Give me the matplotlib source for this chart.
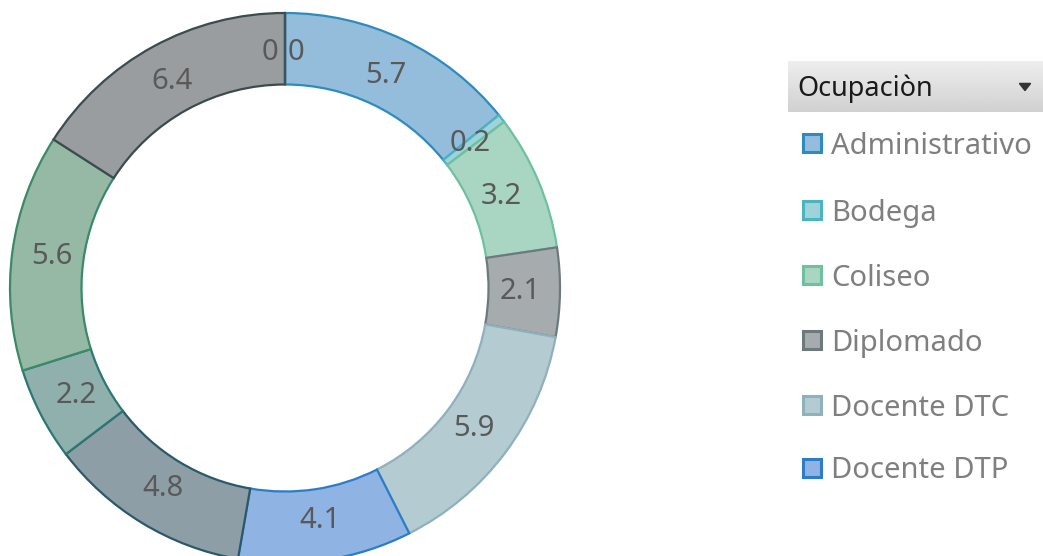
import numpy as np
import matplotlib
matplotlib.use("Agg")
import matplotlib.pyplot as plt
from matplotlib.patches import Rectangle, Polygon

plt.rcParams['font.family'] = ['Noto Sans', 'DejaVu Sans']

# data (clockwise from the top)
values = [5.7, 0.2, 3.2, 2.1, 5.9, 4.1, 4.8, 2.2, 5.6, 6.4, 0.0, 0.0]
labels = ["5.7", "0.2", "3.2", "2.1", "5.9", "4.1", "4.8", "2.2", "5.6", "6.4", "0", "0"]
legend_names = ["Administrativo", "Bodega", "Coliseo", "Diplomado", "Docente DTC", "Docente DTP"]
legend_title = "Ocupaciòn"

fills = ['#93bddb', '#9ed3d9', '#a9d6c3', '#a6abad', '#b4cbd2', '#8fb3e2',
         '#8e9ea6', '#90b0ad', '#95b9a5', '#9a9d9f', '#8a9aa0', '#8a9aa0']
edges = ['#2e8bbd', '#4bb4c2', '#6ec19f', '#6d7a7d', '#8eb1bb', '#2b7dc8',
         '#2a5a6a', '#2b7773', '#3a8968', '#3d4a4e', '#3a5560', '#3a5560']

W, H = 1043, 556
fig = plt.figure(figsize=(W / 100, H / 100), dpi=100)

# donut
cx, cy, R = 285, 288, 275
ax = fig.add_axes([(cx - R) / W, (H - cy - R) / H, 2 * R / W, 2 * R / H])
wedges, _ = ax.pie(values, startangle=90, counterclock=False, colors=fills,
                   radius=1.0, wedgeprops=dict(width=0.26, linewidth=1.6))
for w, ec in zip(wedges, edges):
    w.set_edgecolor(ec)
ax.set_xlim(-1, 1)
ax.set_ylim(-1, 1)
ax.set_aspect('equal')
ax.axis('off')

r_lab = 0.855
zero_seen = 0
for w, lab, v in zip(wedges, labels, values):
    mid = np.deg2rad((w.theta1 + w.theta2) / 2)
    x, y = r_lab * np.cos(mid), r_lab * np.sin(mid)
    if v == 0:
        x += -0.055 if zero_seen == 0 else 0.04
        zero_seen += 1
    ax.text(x, y, lab, ha='center', va='center', fontsize=21, color='#595959')

# legend header
hx0, hy0, hx1, hy1 = 788, 61, 1043, 112
hax = fig.add_axes([hx0 / W, (H - hy1) / H, (hx1 - hx0) / W, (hy1 - hy0) / H])
grad = np.linspace(0.93, 0.82, 50)[:, None] * np.ones((50, 2))
hax.imshow(grad, cmap='gray', vmin=0, vmax=1, aspect='auto', extent=[0, 1, 0, 1])
hax.set_xlim(0, 1)
hax.set_ylim(0, 1)
hax.axis('off')
hax.text((797 - hx0) / (hx1 - hx0), 0.45, legend_title, ha='left', va='center',
         fontsize=19.5, color='#1a1a1a')
tx = (1025 - hx0) / (hx1 - hx0)
hax.add_patch(Polygon([[tx - 0.022, 0.56], [tx + 0.022, 0.56], [tx, 0.42]],
                      closed=True, color='#333333'))

# legend items
item_y = [143, 210, 275, 340, 405, 468]
for name, yc, fc, ec in zip(legend_names, item_y, fills, edges):
    s = 18
    fig.patches.append(Rectangle(((803) / W, (H - yc - s / 2) / H), s / W, s / H,
                                 transform=fig.transFigure, facecolor=fc,
                                 edgecolor=ec, linewidth=2.2))
    fig.text(831 / W, (H - yc - 3) / H, name, ha='left', va='center',
             fontsize=21, color='#7f7f7f')

fig.savefig("out.png", dpi=100)
